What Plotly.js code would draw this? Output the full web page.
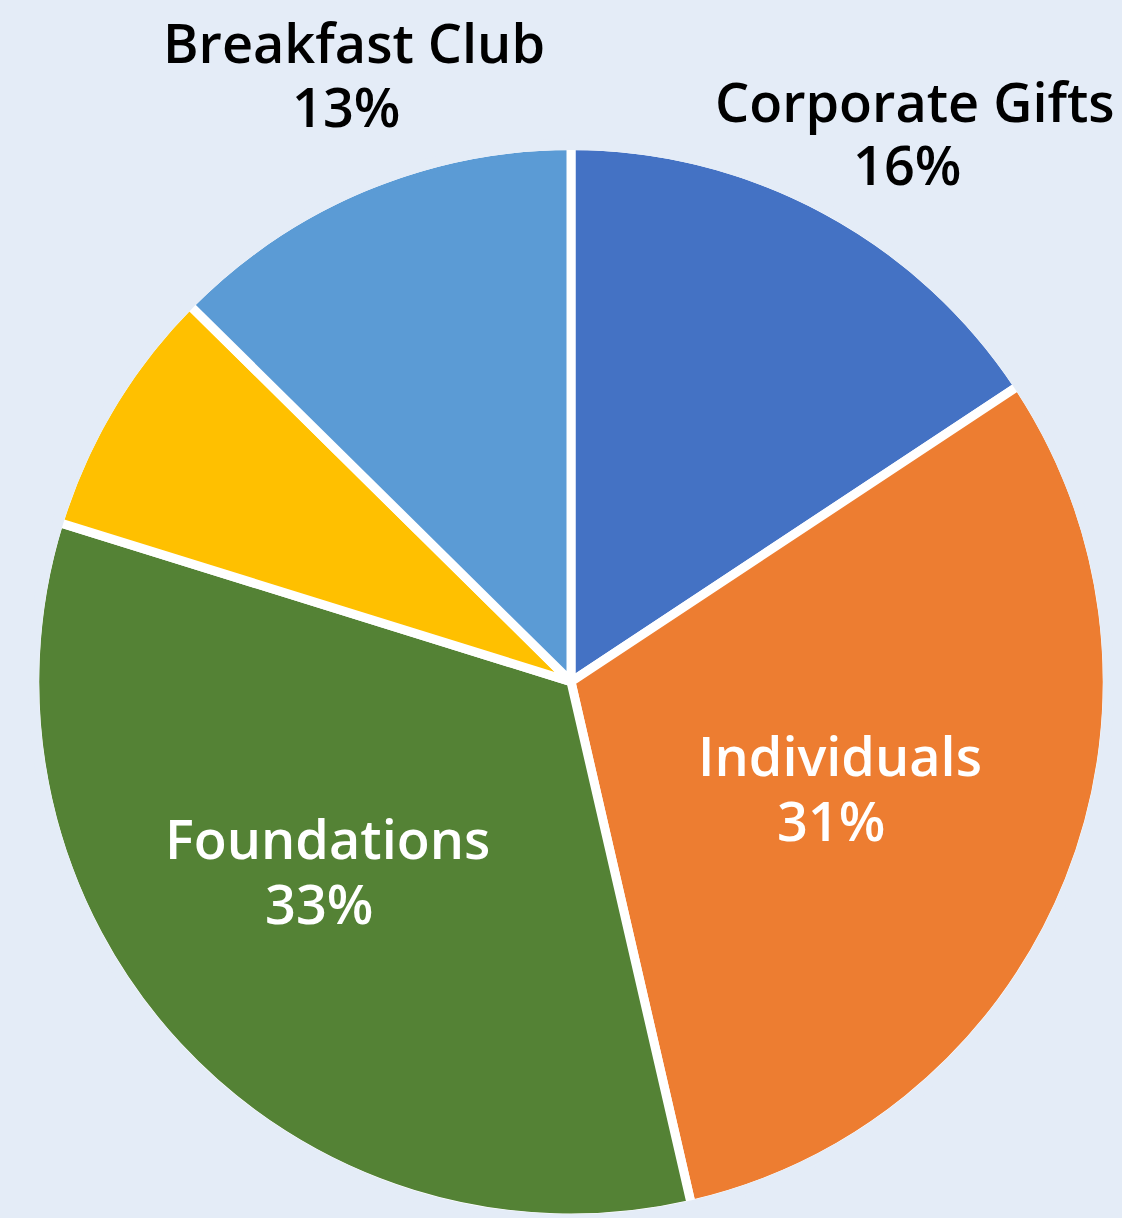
<!DOCTYPE html>
<html>
<head>
<meta charset="utf-8">
<script src="https://cdn.plot.ly/plotly-3.0.1.min.js"></script>
<style>html,body{margin:0;padding:0;background:#E4ECF7;}#chart{width:1122px;height:1218px;}</style>
</head>
<body>
<div id="chart"></div>
<script>
const categories = ["Corporate Gifts", "Individuals", "Foundations", "Other", "Breakfast Club"];
const shares = [15.7, 30.7, 33.4, 7.6, 12.6];
const sliceColors = ["#4472C4", "#ED7D31", "#548235", "#FFC000", "#5B9BD5"];
const showLabel = [true, true, true, false, true];

// label placement in pixels (name line centre, percent line centre) and text colour
const labelPos = [
  {x1: 915, y1: 101, x2: 907, y2: 164, color: "#000000"},
  {x1: 840, y1: 755, x2: 831, y2: 820, color: "#FFFFFF"},
  {x1: 327, y1: 838, x2: 319, y2: 903, color: "#FFFFFF"},
  null,
  {x1: 354, y1: 42, x2: 346, y2: 106, color: "#000000"}
];

const W = 1122, H = 1218, cx = 571, cy = 682, r = 532;
const bg = "#E4ECF7";
const total = shares.reduce((a, b) => a + b, 0);
const fontSpec = (c) => ({family: "Open Sans", size: 54, weight: 600, color: c});

const annotations = [];
categories.forEach((c, i) => {
  if (!showLabel[i]) return;
  const p = labelPos[i];
  annotations.push({
    xref: "paper", yref: "paper", x: p.x1 / W, y: 1 - p.y1 / H,
    xanchor: "center", yanchor: "middle", showarrow: false,
    text: c, font: fontSpec(p.color)
  });
  annotations.push({
    xref: "paper", yref: "paper", x: p.x2 / W, y: 1 - p.y2 / H,
    xanchor: "center", yanchor: "middle", showarrow: false,
    text: Math.round(shares[i] / total * 100) + "%", font: fontSpec(p.color)
  });
});

const gap = 9;
const R = r + gap / 2; // pie radius; outer part of the white stroke is hidden by a ring
const data = [{
  type: "pie",
  labels: categories,
  values: shares,
  sort: false,
  direction: "clockwise",
  rotation: 0,
  textinfo: "none",
  hoverinfo: "label+percent",
  marker: {colors: sliceColors, line: {color: "#FFFFFF", width: gap}},
  domain: {x: [(cx - R) / W, (cx + R) / W], y: [(H - cy - R) / H, (H - cy + R) / H]},
  showlegend: false
}];

const ringR = r + 5.5;
const layout = {
  width: W, height: H,
  margin: {l: 0, r: 0, t: 0, b: 0},
  paper_bgcolor: bg,
  plot_bgcolor: bg,
  annotations: annotations,
  shapes: [{
    type: "circle", xref: "paper", yref: "paper", layer: "above",
    x0: (cx - ringR) / W, x1: (cx + ringR) / W,
    y0: (H - cy - ringR) / H, y1: (H - cy + ringR) / H,
    line: {color: bg, width: 11}, fillcolor: "rgba(0,0,0,0)"
  }],
  showlegend: false
};

Plotly.newPlot("chart", data, layout, {displayModeBar: false, staticPlot: true});
</script>
</body>
</html>
